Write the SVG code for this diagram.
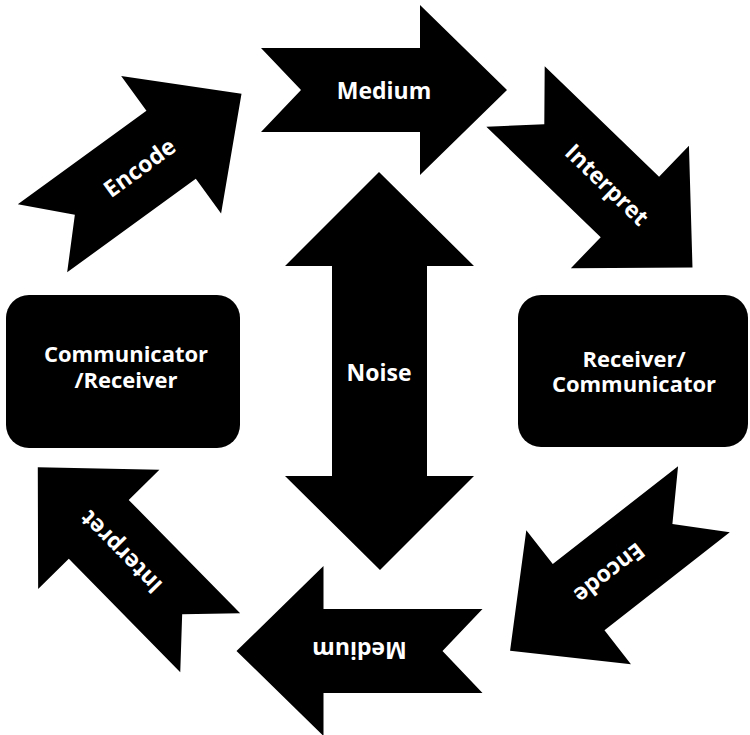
<svg xmlns="http://www.w3.org/2000/svg" width="750" height="735" viewBox="0 0 750 735">
  <style>
    .shape { fill: #000; }
    .lbl { fill: #fff; font-family: "Open Sans", "Liberation Sans", sans-serif; font-weight: bold; font-size: 23px; text-anchor: middle; }
    .box { fill: #fff; font-family: "Open Sans", "Liberation Sans", sans-serif; font-weight: bold; font-size: 22px; text-anchor: middle; }
  </style>
  <defs>
    <path id="arr" d="M-123,-42 L36,-42 L36,-85 L123,0 L36,85 L36,42 L-123,42 L-83,0 Z"/>
  </defs>
  <rect width="750" height="735" fill="#fff"/>
  <g id="connectors">
    <g id="encode-top" transform="translate(142,166) rotate(-36)">
      <use href="#arr" class="shape"/>
      <text class="lbl" x="-3" y="8">Encode</text>
    </g>
    <g id="medium-top" transform="translate(384,90)">
      <use href="#arr" class="shape"/>
      <text class="lbl" x="0" y="9">Medium</text>
    </g>
    <g id="interpret-top" transform="translate(604,182) rotate(44)">
      <use href="#arr" class="shape"/>
      <text class="lbl" x="4" y="8">Interpret</text>
    </g>
    <g id="encode-bottom" transform="translate(607,575) rotate(142)">
      <use href="#arr" class="shape"/>
      <text class="lbl" x="-3" y="8">Encode</text>
    </g>
    <g id="medium-bottom" transform="translate(359.5,651) rotate(180)">
      <use href="#arr" class="shape"/>
      <text class="lbl" x="0" y="9">Medium</text>
    </g>
    <g id="interpret-bottom" transform="translate(124,555) rotate(225.5)">
      <use href="#arr" class="shape"/>
      <text class="lbl" x="4" y="8">Interpret</text>
    </g>
    <g id="noise">
      <path class="shape" d="M379,172 L474,266 L427,266 L427,476 L474,476 L380,570 L285,476 L332,476 L332,266 L285,266 Z"/>
      <text class="lbl" x="379" y="381">Noise</text>
    </g>
  </g>
  <g id="communicator-receiver">
    <rect class="shape" x="6" y="295" width="234" height="153" rx="23"/>
    <text class="box"><tspan x="126" y="362">Communicator</tspan><tspan x="126" y="388">/Receiver</tspan></text>
  </g>
  <g id="receiver-communicator">
    <rect class="shape" x="518" y="295" width="230" height="152" rx="23"/>
    <text class="box"><tspan x="634" y="367">Receiver/</tspan><tspan x="634" y="392">Communicator</tspan></text>
  </g>
</svg>
